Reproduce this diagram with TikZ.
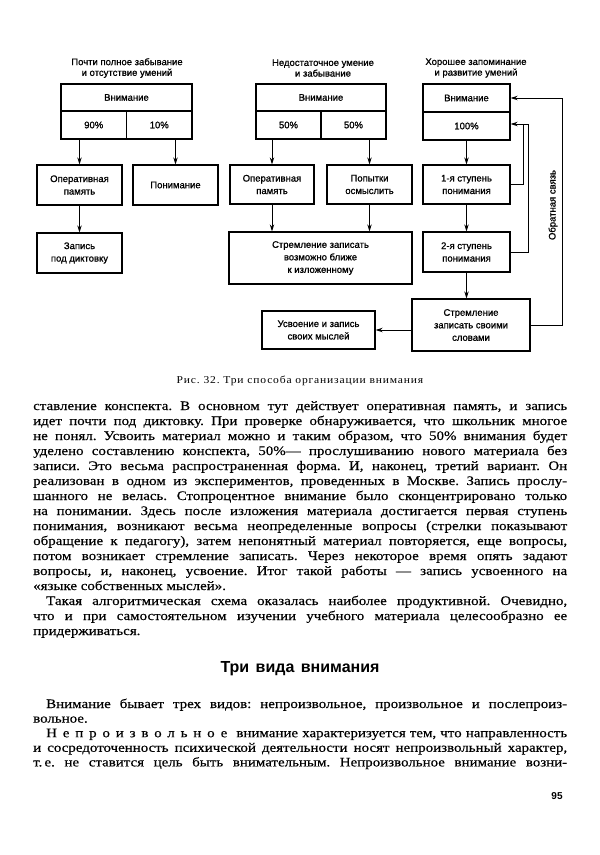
\documentclass[tikz,border=0pt]{standalone}
\usepackage{fontspec}
\setmainfont{Liberation Serif}
\newfontfamily\bodyfont[FakeStretch=1.15,FakeBold=0.4]{Liberation Serif}
\newfontfamily\capfont[FakeStretch=1.1,LetterSpace=8]{Liberation Serif}
\newfontfamily\diagfont[FakeBold=1]{Liberation Sans}
\newfontfamily\headfont{Liberation Sans}
\usetikzlibrary{arrows.meta}
\frenchspacing
\newcommand\jtext[1]{\hbox to 534pt{\spaceskip=.3em plus 1.5em minus .1em\relax #1}}
\tikzset{
 box/.style={draw, line width=1.3pt, inner sep=1pt, align=center, font=\diagfont\fontsize{9.5}{12.5}\selectfont},
 ttl/.style={align=center, inner sep=0pt, font=\diagfont\fontsize{9.5}{10.7}\selectfont},
 arr/.style={-{Stealth[length=7pt,width=4.5pt]}, line width=1pt},
 ln/.style={line width=1pt},
 body/.style={anchor=base west, inner sep=0pt, font=\bodyfont\fontsize{13}{15}\selectfont},
}
\begin{document}
\begin{tikzpicture}[x=1pt,y=-1pt]
\fill[white] (0,0) rectangle (600,855);
\useasboundingbox (0,0) rectangle (600,855);
% titles
\node[ttl] (t1) at (127,68) {Почти полное забывание\\и отсутствие умений};
\node[ttl] (t2) at (323,68) {Недостаточное умение\\и забывание};
\node[ttl] (t3) at (476,68) {Хорошее запоминание\\и развитие умений};
% column 1
\node[box, minimum width=131pt, minimum height=27pt] (att1) at (126.5,97.5) {Внимание};
\node[box, minimum width=65.5pt, minimum height=28pt] (p90) at (93.75,125) {90\%};
\node[box, minimum width=65.5pt, minimum height=28pt] (p10) at (159.25,125) {10\%};
\node[box, minimum width=85pt, minimum height=40pt] (op1) at (79.5,185) {Оперативная\\память};
\node[box, minimum width=85pt, minimum height=40pt] (pon) at (175.5,185) {Понимание};
\node[box, minimum width=85pt, minimum height=40pt] (zap) at (79.5,253) {Запись\\под диктовку};
\draw[arr] (op1.north |- p90.south) -- (op1.north);
\draw[arr] (pon.north |- p10.south) -- (pon.north);
\draw[arr] (op1.south) -- (zap.north);
% column 2
\node[box, minimum width=130pt, minimum height=27pt] (att2) at (321,97.5) {Внимание};
\node[box, minimum width=65pt, minimum height=28pt] (p50a) at (288.5,125) {50\%};
\node[box, minimum width=65pt, minimum height=28pt] (p50b) at (353.5,125) {50\%};
\node[box, minimum width=84pt, minimum height=39pt] (op2) at (272,184.5) {Оперативная\\память};
\node[box, minimum width=85pt, minimum height=39pt] (pop) at (369.5,184.5) {Попытки\\осмыслить};
\node[box, minimum width=183pt, minimum height=52pt] (str2) at (320.5,258) {Стремление записать\\возможно ближе\\к изложенному};
\draw[arr] (op2.north |- p50a.south) -- (op2.north);
\draw[arr] (pop.north |- p50b.south) -- (pop.north);
\draw[arr] (op2.south) -- (op2.south |- str2.north);
\draw[arr] (pop.south) -- (pop.south |- str2.north);
% column 3
\node[box, minimum width=87pt, minimum height=28pt] (att3) at (466.5,98) {Внимание};
\node[box, minimum width=87pt, minimum height=28pt] (p100) at (466.5,126) {100\%};
\node[box, minimum width=87pt, minimum height=39pt] (s1) at (466.5,184.5) {1-я ступень\\понимания};
\node[box, minimum width=87pt, minimum height=40pt] (s2) at (466.5,252) {2-я ступень\\понимания};
\node[box, minimum width=118pt, minimum height=52pt] (sw) at (471,325) {Стремление\\записать своими\\словами};
\node[box, minimum width=113pt, minimum height=38pt] (usv) at (318.5,330) {Усвоение и запись\\своих мыслей};
\draw[arr] (s1.north |- p100.south) -- (s1.north);
\draw[arr] (s1.south) -- (s2.north);
\draw[arr] (s2.south) -- (s2.south |- sw.north);
\draw[arr] (sw.west |- usv.east) -- (usv.east);
\coordinate (fbi) at (528,124);
\coordinate (fbj) at (523,124);
\draw[ln] (s1.east) -| (fbj);
\draw[arr] (s2.east) -| (fbi) -- (fbi -| p100.east);
\coordinate (fbo) at (562,98);
\draw[arr] (sw.east) -| (fbo) -- (att3.east);
\node[rotate=90, font=\diagfont\fontsize{9.5}{11}\selectfont, inner sep=0pt] (fbl) at (553,205) {Обратная связь};
% caption
\node[font=\capfont\fontsize{10.5}{12}\selectfont, inner sep=0pt] (cap) at (300,381) {Рис. 32. Три способа организации внимания};
% body text
\node[body] (b1) at (33,410) {\jtext{ставление конспекта. В основном тут действует оперативная память, и запись}};
\node[body] (b2) at (33,425) {\jtext{идет почти под диктовку. При проверке обнаруживается, что школьник многое}};
\node[body] (b3) at (33,440) {\jtext{не понял. Усвоить материал можно и таким образом, что 50\% внимания будет}};
\node[body] (b4) at (33,455) {\jtext{уделено составлению конспекта, 50\%— прослушиванию нового материала без}};
\node[body] (b5) at (33,470) {\jtext{записи. Это весьма распространенная форма. И, наконец, третий вариант. Он}};
\node[body] (b6) at (33,485) {\jtext{реализован в одном из экспериментов, проведенных в Москве. Запись прослу-}};
\node[body] (b7) at (33,500) {\jtext{шанного не велась. Стопроцентное внимание было сконцентрировано только}};
\node[body] (b8) at (33,515) {\jtext{на понимании. Здесь после изложения материала достигается первая ступень}};
\node[body] (b9) at (33,530) {\jtext{понимания, возникают весьма неопределенные вопросы (стрелки показывают}};
\node[body] (b10) at (33,545) {\jtext{обращение к педагогу), затем непонятный материал повторяется, еще вопросы,}};
\node[body] (b11) at (33,560) {\jtext{потом возникает стремление записать. Через некоторое время опять задают}};
\node[body] (b12) at (33,575) {\jtext{вопросы, и, наконец, усвоение. Итог такой работы — запись усвоенного на}};
\node[body] (b13) at (33,590) {«языке собственных мыслей».};
\node[body] (b14) at (33,605) {\jtext{\hskip13pt Такая алгоритмическая схема оказалась наиболее продуктивной. Очевидно,}};
\node[body] (b15) at (33,620) {\jtext{что и при самостоятельном изучении учебного материала целесообразно ее}};
\node[body] (b16) at (33,635) {придерживаться.};
\node[font=\headfont\bfseries\fontsize{16}{18}\selectfont, anchor=base, inner sep=0pt] (head) at (300,672) {Три\hspace{.4em}вида\hspace{.4em}внимания};
\node[body] (c1) at (33,708) {\jtext{\hskip13pt Внимание бывает трех видов: непроизвольное, произвольное и послепроиз-}};
\node[body] (c2) at (33,722.6) {вольное.};
\node[body] (c3) at (33,737.2) {\jtext{\hskip13pt {\addfontfeature{LetterSpace=45}Непроизвольное}\hskip 9pt plus 4pt\relax внимание характеризуется тем, что направленность}};
\node[body] (c4) at (33,751.8) {\jtext{и сосредоточенность психической деятельности носят непроизвольный характер,}};
\node[body] (c5) at (33,766.4) {\jtext{т.\,е. не ставится цель быть внимательным. Непроизвольное внимание возни-}};
\node[font=\headfont\bfseries\fontsize{10}{12}\selectfont, inner sep=0pt] (pn) at (557,796) {95};
\end{tikzpicture}
\end{document}
